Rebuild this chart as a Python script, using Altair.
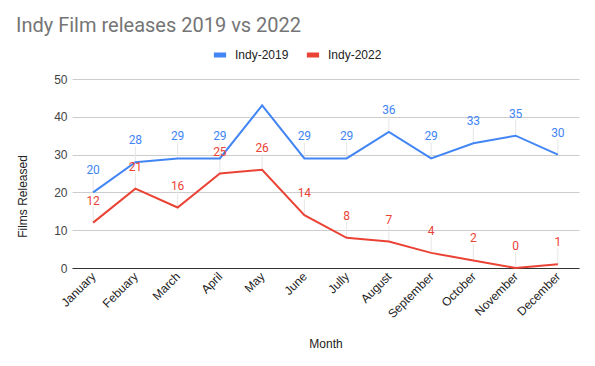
import altair as alt
import pandas as pd

months = ["January", "Febuary", "March", "April", "May", "June", "Jully",
          "August", "September", "October", "November", "December"]
indy_2019 = [20, 28, 29, 29, 43, 29, 29, 36, 29, 33, 35, 30]
indy_2022 = [12, 21, 16, 25, 26, 14, 8, 7, 4, 2, 0, 1]
labels_2019 = ["20", "28", "29", "29", "", "29", "29", "36", "29", "33", "35", "30"]
labels_2022 = ["12", "21", "16", "25", "26", "14", "8", "7", "4", "2", "0", "1"]
series = ["Indy-2019", "Indy-2022"]
colors = ["#4285F4", "#EA4335"]
y_ticks = [0, 10, 20, 30, 40, 50]

rows = []
for s, vals, labs in zip(series, [indy_2019, indy_2022], [labels_2019, labels_2022]):
    for m, v, l in zip(months, vals, labs):
        rows.append({"Month": m, "series": s, "value": v, "label": l})
df = pd.DataFrame(rows)

axis_font = "Liberation Sans"
yscale = alt.Scale(domain=[0, 50], nice=False)
xscale = alt.Scale(type="point", padding=0.5)

x = alt.X(
    "Month:N", sort=months, scale=xscale,
    axis=alt.Axis(
        title="Month", labelAngle=-45, labelAlign="right", labelBaseline="middle",
        labelFont=axis_font, labelFontSize=12, labelColor="#222222",
        titleFont=axis_font, titleFontSize=12, titleColor="#222222",
        titleFontWeight="normal", titleY=75, titleBaseline="middle",
        ticks=False, domainColor="#333333", domainWidth=1, labelPadding=6, grid=False,
        labelOverlap=False,
    ),
)
y = alt.Y(
    "value:Q",
    scale=yscale,
    axis=alt.Axis(
        title="Films Released", values=y_ticks, grid=True, labelOverlap=False,
        labelFont=axis_font, labelFontSize=12, labelColor="#444444",
        titleFont=axis_font, titleFontSize=12, titleColor="#222222",
        titleFontWeight="normal", titleX=-50, titleY=117, titleAngle=270,
        titleAlign="center", titleBaseline="middle",
        ticks=False, domain=False, gridColor="#cccccc", gridOpacity=1, labelPadding=5,
    ),
)
color = alt.Color(
    "series:N",
    scale=alt.Scale(domain=series, range=colors),
    legend=alt.Legend(
        title=None, orient="none", direction="horizontal",
        legendX=139, legendY=-33,
        symbolType="stroke", symbolStrokeWidth=5, symbolSize=150,
        labelFont=axis_font, labelFontSize=12, labelColor="#222222",
        labelOffset=6, columnPadding=7, padding=0,
    ),
)

base = alt.Chart(df)

lines = base.mark_line(strokeWidth=2).encode(x=x, y=y, color=color)

leaders = base.transform_filter("datum.label != ''").transform_calculate(
    top="datum.value + 4.2"
).mark_rule(color="#e6e6e6", strokeWidth=1).encode(
    x=x, y=y, y2="top:Q"
)

labels = base.transform_filter("datum.label != ''").mark_text(
    dy=-22, font="Roboto", fontSize=12, baseline="middle"
).encode(
    x=x, y=y, text="label:N", color=color,
)

chart = alt.layer(leaders, lines, labels).properties(
    width=507, height=189,
    autosize=alt.AutoSizeParams(type="none"),
    padding={"left": 64, "top": 71, "right": 8, "bottom": 90},
    title=alt.TitleParams(
        "Indy Film releases 2019 vs 2022", anchor="start", frame="group",
        font="Roboto", fontSize=20, fontWeight="normal", color="#757575",
        dx=-56, offset=10,
    ),
).configure_view(stroke=None)

chart.save("out.html", embed_options={"renderer": "svg", "actions": False})
